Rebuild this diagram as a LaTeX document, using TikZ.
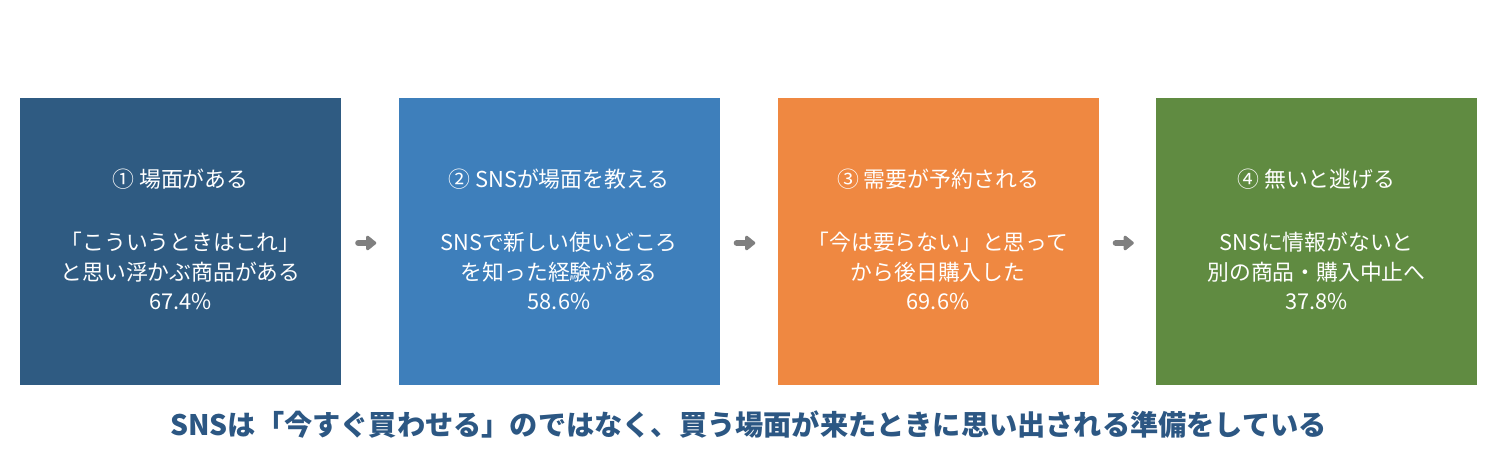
\documentclass[tikz,border=0pt]{standalone}
\usepackage{fontspec}
\setmainfont{Noto Sans CJK JP}
\usetikzlibrary{arrows.meta,calc}
\definecolor{cA}{HTML}{2F5B82}
\definecolor{cB}{HTML}{3E7FBB}
\definecolor{cC}{HTML}{EF8841}
\definecolor{cD}{HTML}{608B41}
\definecolor{cT}{HTML}{2C5783}
\definecolor{cG}{HTML}{7F7F7F}
\begin{document}
\begin{tikzpicture}[x=1pt,y=1pt,
  box/.style={draw=none,minimum width=321pt,minimum height=287pt,inner sep=0pt},
  ttl/.style={text=white,font=\fontsize{21.9}{24}\selectfont,inner sep=0pt},
  body/.style={text=white,font=\fontsize{21.8}{29.5}\selectfont,align=center,inner sep=0pt},
  flow/.style={cG,line width=6pt,line cap=round,-{Triangle[length=11pt,width=17pt,round]},shorten <=17pt,shorten >=22pt}]
\useasboundingbox (0,0) rectangle (1497,471);
\fill[white] (0,0) rectangle (1497,471);
\node[box,fill=cA] (b1) at (180.5,229.5) {};
\node[box,fill=cB] (b2) at (559,229.5) {};
\node[box,fill=cC] (b3) at (938,229.5) {};
\node[box,fill=cD] (b4) at (1316.5,229.5) {};
\node[ttl] (t1) at (180.5,292) {① 場面がある};
\node[ttl] (t2) at (559,292) {② SNSが場面を教える};
\node[ttl] (t3) at (938,292) {③ 需要が予約される};
\node[ttl] (t4) at (1316.5,292) {④ 無いと逃げる};
\node[body] (d1) at (180.5,200) {「こういうときはこれ」\\と思い浮かぶ商品がある\\67.4\%};
\node[body] (d2) at (559,200) {SNSで新しい使いどころ\\を知った経験がある\\58.6\%};
\node[body] (d3) at (938,200) {「今は要らない」と思って\\から後日購入した\\69.6\%};
\node[body] (d4) at (1316.5,200) {SNSに情報がないと\\別の商品・購入中止へ\\37.8\%};
\draw[flow] (b1.east |- 0,228) -- (b2.west |- 0,228);
\draw[flow] (b2.east |- 0,228) -- (b3.west |- 0,228);
\draw[flow] (b3.east |- 0,228) -- (b4.west |- 0,228);
\node[text=cT,font=\fontsize{28.2}{32}\selectfont\bfseries,inner sep=0pt] (msg) at (748.5,46) {SNSは「今すぐ買わせる」のではなく、買う場面が来たときに思い出される準備をしている};
\end{tikzpicture}
\end{document}
